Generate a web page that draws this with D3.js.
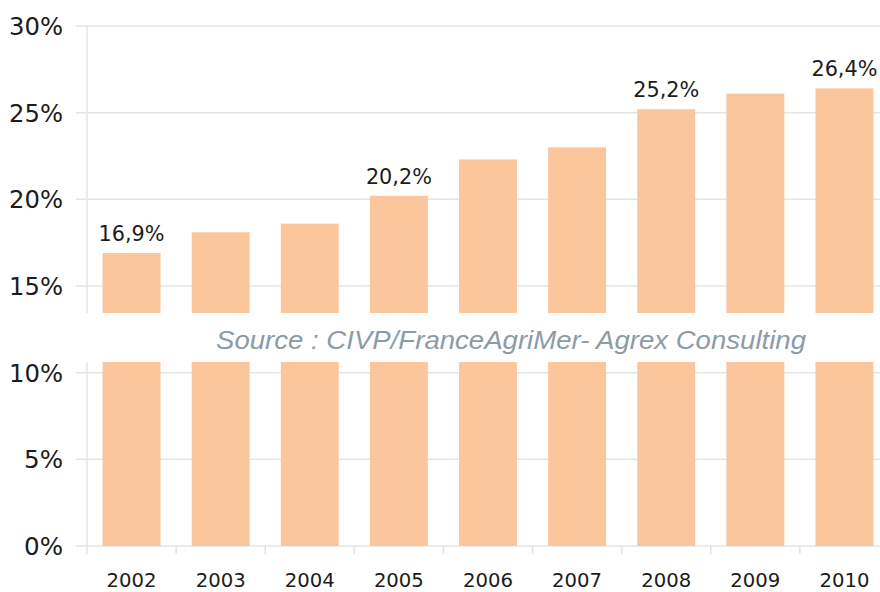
<!DOCTYPE html>
<html lang="fr">
<head>
<meta charset="UTF-8">
<title>Bar chart</title>
<script src="https://d3js.org/d3.v7.min.js"></script>
<style>
  body { margin: 0; background: #fff; }
  svg text { font-family: "DejaVu Sans", sans-serif; fill: #1c1c1c; }
</style>
</head>
<body>
<div id="chart"></div>
<script>
  const years = ["2002", "2003", "2004", "2005", "2006", "2007", "2008", "2009", "2010"];
  const values = [16.9, 18.1, 18.6, 20.2, 22.3, 23.0, 25.2, 26.1, 26.4];
  const labelled = ["2002", "2005", "2008", "2010"];
  const yTicks = [0, 5, 10, 15, 20, 25, 30];
  const source = "Source : CIVP/FranceAgriMer- Agrex Consulting";

  const W = 880, H = 592;
  const margin = {top: 26, right: -9, bottom: 46, left: 87};

  const svg = d3.select("#chart").append("svg")
    .attr("width", W).attr("height", H);

  const x = d3.scaleBand()
    .domain(years)
    .range([margin.left, W - margin.right])
    .paddingInner(0.35)
    .paddingOuter(0.175);

  const y = d3.scaleLinear()
    .domain([0, 30])
    .range([H - margin.bottom, margin.top]);

  // gridlines
  svg.append("g")
    .selectAll("line")
    .data(yTicks)
    .join("line")
      .attr("x1", margin.left - 11)
      .attr("x2", W)
      .attr("y1", d => y(d))
      .attr("y2", d => y(d))
      .attr("stroke", "#e2e5e8")
      .attr("stroke-width", 1.5);

  // vertical axis line
  svg.append("line")
    .attr("x1", margin.left).attr("x2", margin.left)
    .attr("y1", y(30)).attr("y2", y(0) + 8)
    .attr("stroke", "#e2e5e8").attr("stroke-width", 1.5);

  // category ticks below axis
  const step = x.step();
  svg.append("g")
    .selectAll("line")
    .data(years.slice(1))
    .join("line")
      .attr("x1", d => x(d) - x.paddingInner() * step / 2)
      .attr("x2", d => x(d) - x.paddingInner() * step / 2)
      .attr("y1", y(0))
      .attr("y2", y(0) + 8)
      .attr("stroke", "#e2e5e8").attr("stroke-width", 1.5);

  // y tick labels
  svg.append("g")
    .selectAll("text")
    .data(yTicks)
    .join("text")
      .attr("x", margin.left - 24)
      .attr("y", d => y(d))
      .attr("dy", "0.36em")
      .attr("text-anchor", "end")
      .attr("textLength", d => d < 10 ? 39 : 54)
      .attr("lengthAdjust", "spacingAndGlyphs")
      .style("font-size", "25px")
      .text(d => d + "%");

  // bars
  svg.append("g")
    .selectAll("rect")
    .data(values)
    .join("rect")
      .attr("x", (d, i) => x(years[i]))
      .attr("y", d => y(d))
      .attr("width", x.bandwidth())
      .attr("height", d => y(0) - y(d))
      .attr("fill", "#fcc69c");

  // value labels
  svg.append("g")
    .selectAll("text")
    .data(values.map((v, i) => ({year: years[i], v})).filter(d => labelled.includes(d.year)))
    .join("text")
      .attr("x", d => x(d.year) + x.bandwidth() / 2)
      .attr("y", d => y(d.v) - 12)
      .attr("text-anchor", "middle")
      .attr("textLength", 66)
      .attr("lengthAdjust", "spacingAndGlyphs")
      .style("font-size", "21px")
      .text(d => d3.format(".1f")(d.v).replace(".", ",") + "%");

  // year labels
  svg.append("g")
    .selectAll("text")
    .data(years)
    .join("text")
      .attr("x", d => x(d) + x.bandwidth() / 2)
      .attr("y", H - 5)
      .attr("text-anchor", "middle")
      .attr("textLength", 50)
      .attr("lengthAdjust", "spacingAndGlyphs")
      .style("font-size", "20px")
      .text(d => d);

  // white band with source
  svg.append("rect")
    .attr("x", margin.left - 11).attr("y", 313)
    .attr("width", W).attr("height", 49)
    .attr("fill", "#fff");

  svg.append("text")
    .attr("x", 511)
    .attr("y", 349)
    .attr("text-anchor", "middle")
    .attr("textLength", 590)
    .attr("lengthAdjust", "spacingAndGlyphs")
    .style("font-family", "'Liberation Sans', Arial, sans-serif")
    .style("font-style", "italic")
    .style("font-size", "26px")
    .style("fill", "#8c9ba6")
    .text(source);
</script>
</body>
</html>
